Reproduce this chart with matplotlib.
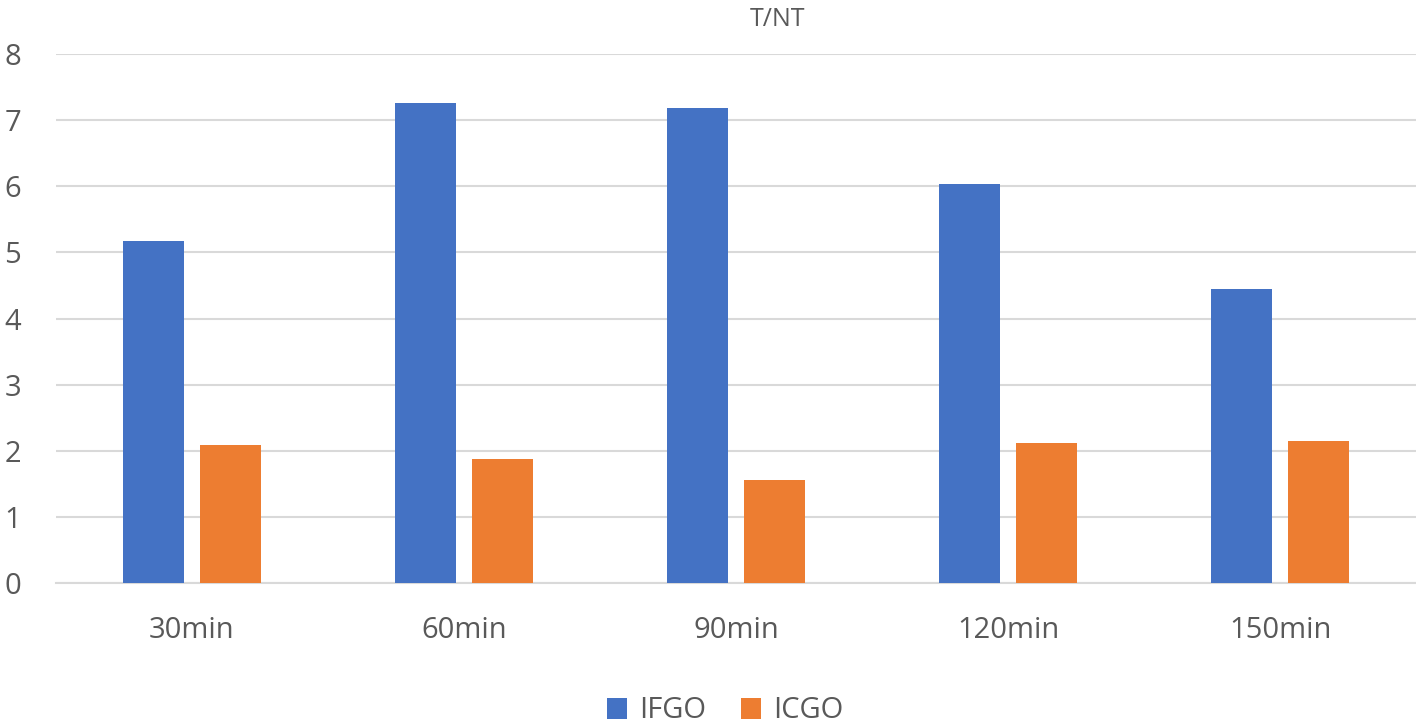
import numpy as np
import matplotlib.pyplot as plt

categories = ['30min', '60min', '90min', '120min', '150min']
ifgo = [5.17, 7.26, 7.19, 6.04, 4.45]
icgo = [2.09, 1.88, 1.56, 2.11, 2.15]

plt.rcParams['font.family'] = ['Open Sans', 'DejaVu Sans']
grey = '#595959'

fig = plt.figure(figsize=(14.16, 7.27), dpi=100)
ax = fig.add_axes([56 / 1416, 144 / 727, 1 - 56 / 1416, (583 - 54) / 727])

x = np.arange(len(categories))
w = 0.225
ax.bar(x - 0.142, ifgo, w, color='#4472C4', label='IFGO', zorder=3)
ax.bar(x + 0.142, icgo, w, color='#ED7D31', label='ICGO', zorder=3)

ax.set_xlim(-0.5, len(categories) - 0.5)
ax.set_ylim(0, 8)
ax.set_yticks(range(0, 9))
ax.set_xticks(x)
ax.set_xticklabels(categories)
ax.yaxis.grid(True, color='#D9D9D9', linewidth=1.5, zorder=0)
for s in ['top', 'right', 'left']:
    ax.spines[s].set_visible(False)
ax.spines['bottom'].set_color('#D9D9D9')
ax.spines['bottom'].set_linewidth(1.5)
ax.tick_params(axis='both', length=0, labelsize=21, colors=grey)
ax.tick_params(axis='x', pad=24)
ax.tick_params(axis='y', pad=25)

fig.text(778 / 1416, 1 - 20 / 727, 'T/NT', ha='center', va='center', fontsize=18, color=grey)
fig.legend(loc='center', bbox_to_anchor=(725 / 1416, 1 - 711 / 727), ncol=2, frameon=False,
           fontsize=21, labelcolor=grey, handlelength=0.7, handleheight=0.7,
           handletextpad=0.4, columnspacing=1.2)

fig.savefig('out.png', dpi=100)
